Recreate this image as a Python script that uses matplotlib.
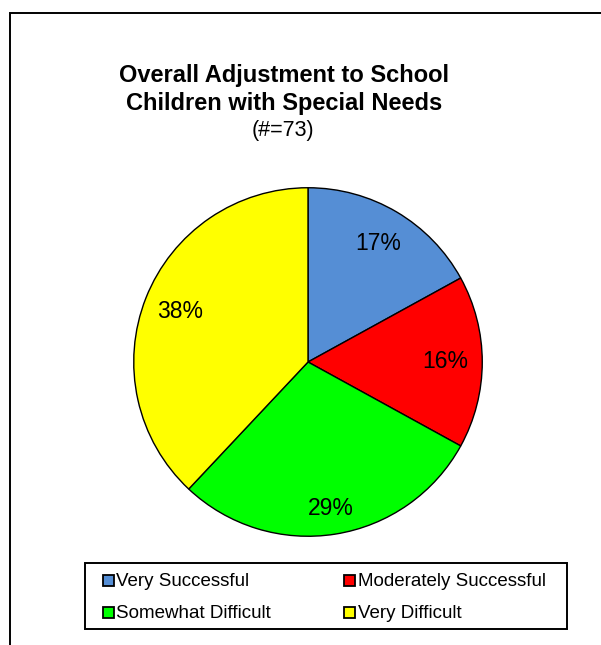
import numpy as np
import matplotlib.pyplot as plt
from matplotlib.patches import Rectangle

plt.rcParams['font.family'] = ['Liberation Sans', 'DejaVu Sans']

# --- Data ---
categories = ["Very Successful", "Moderately Successful", "Somewhat Difficult", "Very Difficult"]
shares = [17, 16, 29, 38]
colors = ["#558ED5", "#FF0000", "#00FF00", "#FFFF00"]
title_lines = ["Overall Adjustment to School", "Children with Special Needs"]
subtitle = "(#=73)"

W, H = 601, 645
fig = plt.figure(figsize=(W / 100, H / 100), dpi=100)

def px(x, y):
    return x / W, 1 - y / H

# outer chart frame (runs off right and bottom edges)
fig.patches.append(Rectangle(px(10.5, 700), 1.2, (700 - 12.5) / H, transform=fig.transFigure,
                             fill=False, edgecolor="black", linewidth=1.4))

# pie
cx, cy, r = 308, 362, 176
ax = fig.add_axes([(cx - r) / W, (H - cy - r) / H, 2 * r / W, 2 * r / H])
wedges, _, autotexts = ax.pie(shares, colors=colors, startangle=90, counterclock=False,
                              autopct="%1.0f%%", pctdistance=0.79, radius=1.0,
                              wedgeprops=dict(edgecolor="black", linewidth=1.0),
                              textprops=dict(fontsize=16.5, color="black"))
# the bottom label sits a little further out
w = wedges[2]
mid = np.deg2rad((w.theta1 + w.theta2) / 2)
autotexts[2].set_position((0.85 * np.cos(mid), 0.85 * np.sin(mid)))
ax.set_xlim(-1.01, 1.01)
ax.set_ylim(-1.01, 1.01)
ax.set_aspect("auto")
ax.axis("off")

# titles
fig.text(*px(284, 82), title_lines[0], ha="center", va="baseline", fontsize=17, fontweight="bold")
fig.text(*px(284, 110), title_lines[1], ha="center", va="baseline", fontsize=17, fontweight="bold")
fig.text(*px(283, 136), subtitle, ha="center", va="baseline", fontsize=15.5)

# legend box, entries laid out row by row
bx0, by0, bx1, by1 = 85, 563, 567, 629
fig.patches.append(Rectangle(px(bx0, by1), (bx1 - bx0) / W, (by1 - by0) / H,
                             transform=fig.transFigure, fill=False,
                             edgecolor="black", linewidth=1.4))
col_x = [103, 344]
row_y = [580, 612]
msz = 11
for i, (label, wd) in enumerate(zip(categories, wedges)):
    x = col_x[i % 2]
    y = row_y[i // 2]
    fig.patches.append(Rectangle(px(x, y + msz / 2), msz / W, msz / H,
                                 transform=fig.transFigure, facecolor=wd.get_facecolor(),
                                 edgecolor="black", linewidth=1.3))
    fig.text(*px(x + msz + 2.5, y), label, ha="left", va="center_baseline", fontsize=13.5)

fig.savefig("out.png", dpi=100)
